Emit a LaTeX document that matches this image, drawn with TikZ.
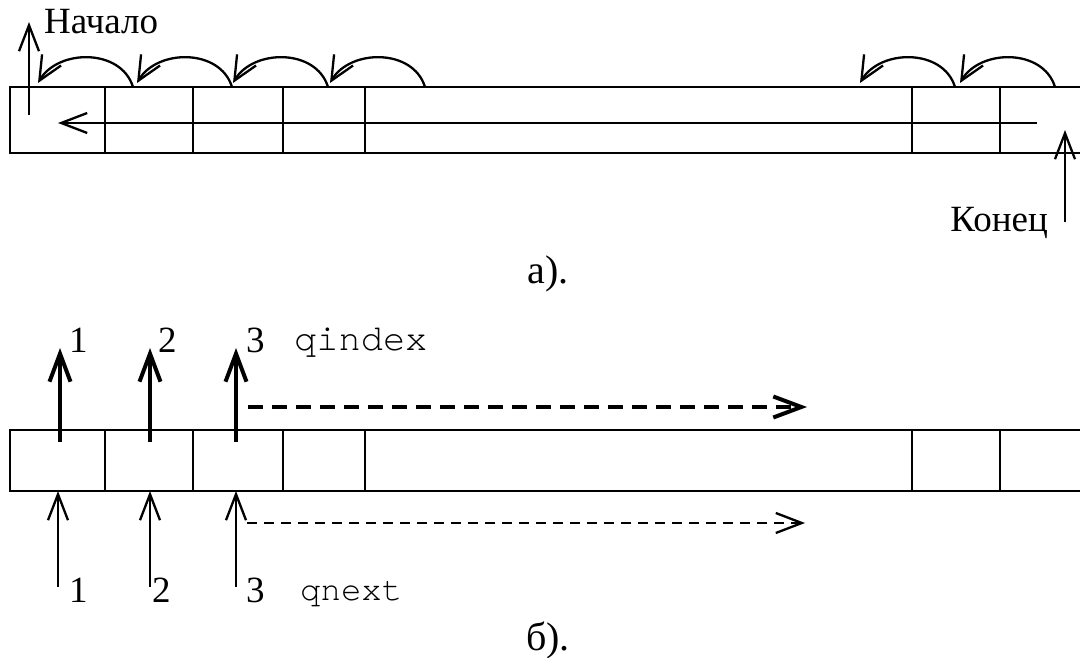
\documentclass[tikz,border=0pt]{standalone}
\usepackage{fontspec}
\setmainfont{Liberation Serif}
\setmonofont{TeX Gyre Cursor}
\usetikzlibrary{arrows.meta}
\begin{document}
\begin{tikzpicture}[x=1pt,y=-1pt,
  thinln/.style={line width=2.3pt},
  thickln/.style={line width=4pt},
  tipthin/.style={-{Straight Barb[length=26pt,width=20pt,line width=2.3pt]}},
  tipthick/.style={-{Straight Barb[length=28pt,width=21pt,line width=4pt]}},
  tipcurve/.style={-{Straight Barb[length=24pt,width=22pt,line width=2.3pt]}},
  lbl/.style={inner sep=0pt,font=\fontsize{37}{42}\selectfont},
  captxt/.style={inner sep=0pt,font=\fontsize{40}{46}\selectfont},
  monoa/.style={inner sep=0pt,font=\ttfamily\fontsize{37}{42}\selectfont},
  monob/.style={inner sep=0pt,font=\ttfamily\fontsize{34}{40}\selectfont},
  every path/.style={line join=miter}]
\useasboundingbox (0,0) rectangle (1080,658);

% ---------- a) strip ----------
\draw[thinln] (1080,87) -- (10,87) -- (10,153) -- (1080,153);
\foreach \xx in {105,193,283,365,912,1000}
  \draw[thinln] (\xx,87) -- (\xx,153);

% curved arrows
\foreach \s in {133,232,328,425,955,1055}{
  \coordinate (cs\s) at (\s,87);
  \coordinate (ce\s) at ({\s-95},83);
  \draw[thinln,tipcurve] (cs\s) .. controls ({\s-12},48) and ({\s-75},49) .. (ce\s);
}

% interior arrow
\coordinate (ia1) at (1037,123);
\coordinate (ia2) at (58,123);
\draw[thinln,tipthin] (ia1) -- (ia2);

% Nachalo
\coordinate (n1) at (29,115);
\coordinate (n2) at (29,22);
\draw[thinln,tipthin] (n1) -- (n2);
\node[lbl,anchor=base west] (nach) at (44,34) {Начало};

% Konets
\coordinate (k1) at (1065,222);
\coordinate (k2) at (1065,130);
\draw[thinln,tipthin] (k1) -- (k2);
\node[lbl,anchor=base east] (kon) at (1048,232) {Конец};

\node[captxt,anchor=base] (capa) at (548,283) {а).};

% ---------- b) strip ----------
\draw[thinln] (1080,430) -- (10,430) -- (10,491) -- (1080,491);
\foreach \xx in {105,193,283,365,912,1000}
  \draw[thinln] (\xx,430) -- (\xx,491);

% thick up arrows (qindex)
\foreach \xx/\i in {60/1,150/2,236/3}{
  \coordinate (ta\i) at (\xx,442);
  \coordinate (tb\i) at (\xx,348);
  \draw[thickln,tipthick] (ta\i) -- (tb\i);
}
\node[lbl,anchor=base west] (t1) at (69,352) {1};
\node[lbl,anchor=base west] (t2) at (158,352) {2};
\node[lbl,anchor=base west] (t3) at (246,352) {3};
\node[monoa,anchor=base west] (qi) at (294,350) {qindex};

\coordinate (dt1) at (248,407);
\coordinate (dt2) at (807,407);
\draw[thickln,tipthick,dash pattern=on 15pt off 9pt] (dt1) -- (dt2);

% thin up arrows (qnext)
\foreach \xx/\i in {58/1,150/2,236/3}{
  \coordinate (ba\i) at (\xx,587);
  \coordinate (bb\i) at (\xx,491);
  \draw[thinln,tipthin] (ba\i) -- (bb\i);
}
\node[lbl,anchor=base west] (b1) at (69,602) {1};
\node[lbl,anchor=base west] (b2) at (152,602) {2};
\node[lbl,anchor=base west] (b3) at (246,602) {3};
\node[monob,anchor=base west] (qn) at (300,600) {qnext};

\coordinate (dn1) at (247,523);
\coordinate (dn2) at (805,523);
\draw[thinln,tipthin,dash pattern=on 10pt off 7pt] (dn1) -- (dn2);

\node[captxt,anchor=base] (capb) at (548,650) {б).};
\end{tikzpicture}
\end{document}
